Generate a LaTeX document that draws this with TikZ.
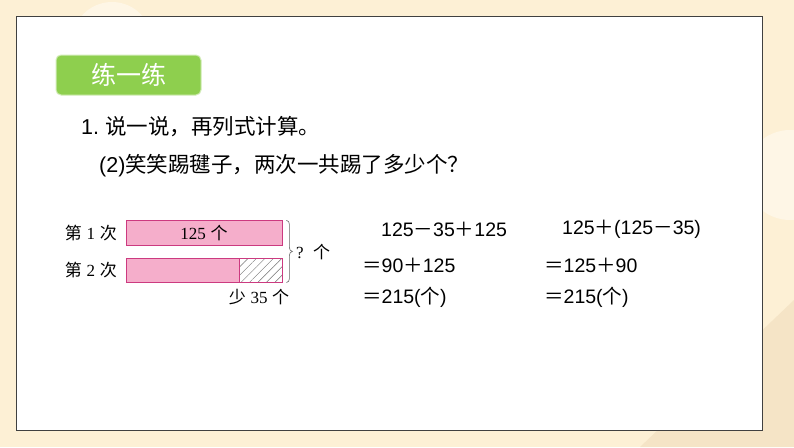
\documentclass[tikz,border=0pt]{standalone}
\usepackage{fontspec}
\setmainfont{Liberation Sans}
\newfontfamily\cjk{Noto Sans CJK SC}
\newfontfamily\numserif{Liberation Serif}
\usetikzlibrary{patterns.meta}

\definecolor{cream}{HTML}{FDF0D5}
\definecolor{creamlight}{HTML}{FEF6E6}
\definecolor{creamdark}{HTML}{F5E4C6}
\definecolor{badgegreen}{HTML}{8ECF4E}
\definecolor{barpink}{HTML}{F5AECB}
\definecolor{barline}{HTML}{CC3A80}

\tikzset{
  bar/.style={draw=barline,fill=barpink,line width=0.8pt,minimum height=24.5pt},
  barlabel/.style={font=\fontsize{17}{17}\selectfont},
  qline/.style={anchor=west,font=\fontsize{21.5}{21.5}\selectfont},
  calc/.style={anchor=west,font=\fontsize{19.5}{19.5}\selectfont}
}

\begin{document}
\begin{tikzpicture}
  [x=1pt,y=1pt,every node/.style={inner sep=0pt}]
  \useasboundingbox (0,0) rectangle (794,-447);
  \fill[cream] (0,0) rectangle (794,-447);
  \fill[creamlight] (112,-42) circle (40);
  \fill[creamlight] (790,-175) circle (45);
  \fill[creamdark] (794,-300) -- (794,-447) -- (640,-447) -- cycle;
  \node[draw=black!75,fill=white,line width=0.8pt,minimum width=746pt,minimum height=414pt] (panel) at (389,-223) {};

  \node[fill=badgegreen,draw=badgegreen!40!white,line width=1pt,rounded corners=5pt,minimum width=145pt,minimum height=40pt,text=white,font=\fontsize{25}{25}\selectfont\cjk] (title) at (128.5,-75) {练一练};

  \node[qline] (q1) at (81,-127) {1.\ {\cjk 说一说，再列式计算。}};
  \node[qline] (q2) at (99,-166) {(2){\cjk 笑笑踢毽子，两次一共踢了多少个？}};

  \node[barlabel,anchor=east] (first) at (117,-233) {{\cjk 第} {\numserif 1} {\cjk 次}};
  \node[barlabel,anchor=east] (second) at (117,-270.5) {{\cjk 第} {\numserif 2} {\cjk 次}};
  \node[bar,minimum width=156pt,barlabel] (bar1) at (204,-233) {{\numserif 125} {\cjk 个}};
  \node[bar,minimum width=113pt] (bar2) at (182.5,-270.5) {};
  \node[bar,minimum width=43pt,pattern={Lines[angle=45,distance=6pt,line width=0.5pt]},pattern color=black!55] (less) at (260.5,-270.5) {};
  \coordinate (top) at ([xshift=4pt]bar1.north east);
  \draw[black!60,line width=0.6pt] (top) to[out=0,in=90] ++(3,-4) -- ++(0,-23.1)
    to[out=-90,in=180] ++(3,-4) to[out=180,in=90] ++(-3,-4) -- ++(0,-23.1)
    to[out=-90,in=0] ++(-3,-4);
  \node[barlabel,anchor=west] (total) at (296,-252) {{\numserif ?}\ \ {\cjk 个}};
  \node[barlabel] (diff) at (259,-297) {{\cjk 少} {\numserif 35} {\cjk 个}};

  \node[calc] (a1) at (381,-229) {125{\cjk －}35{\cjk ＋}125};
  \node[calc] (a2) at (362,-265) {{\cjk ＝}90{\cjk ＋}125};
  \node[calc] (a3) at (362,-297) {{\cjk ＝}215({\cjk 个})};
  \node[calc] (b1) at (562,-229) {125{\cjk ＋}(125{\cjk －}35)};
  \node[calc] (b2) at (544,-265) {{\cjk ＝}125{\cjk ＋}90};
  \node[calc] (b3) at (544,-297) {{\cjk ＝}215({\cjk 个})};
\end{tikzpicture}
\end{document}
